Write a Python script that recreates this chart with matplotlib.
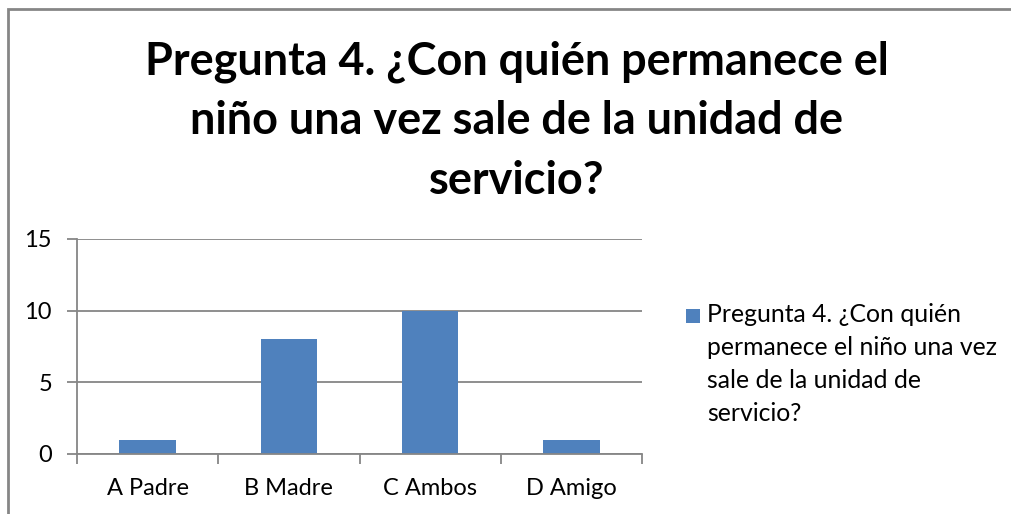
import numpy as np
from matplotlib import pyplot as plt
from matplotlib.patches import Rectangle
from matplotlib.legend_handler import HandlerPatch

categories = ['A Padre', 'B Madre', 'C Ambos', 'D Amigo']
values = [1, 8, 10, 1]
title = 'Pregunta 4. ¿Con quién permanece el\nniño una vez sale de la unidad de\nservicio?'
series_label = 'Pregunta 4. ¿Con quién\npermanece el niño una vez\nsale de la unidad de\nservicio?'
yticks = [0, 5, 10, 15]

BLUE = '#4F81BD'
GRAY = '#868686'

plt.rcParams['font.family'] = ['Lato', 'DejaVu Sans']

W, H = 1011, 514
fig = plt.figure(figsize=(W / 100, H / 100), dpi=100)

# outer chart border (only left and top visible in the reference)
fig.patches.append(Rectangle((8 / W, -0.05), 1.2, 1 - 9 / H + 0.05,
                             transform=fig.transFigure, fill=False,
                             edgecolor=GRAY, linewidth=2))

ax = fig.add_axes([77 / W, 1 - 454 / H, (642 - 77) / W, (454 - 239) / H])

x = np.arange(len(categories))
ax.bar(x, values, width=0.4, color=BLUE, zorder=2)

ax.set_xlim(-0.5, len(categories) - 0.5)
ax.set_ylim(0, 15)
ax.set_yticks(yticks)
ax.set_xticks(x)
ax.set_xticklabels(categories)
ax.yaxis.grid(True, color=GRAY, linewidth=1.3, zorder=1)
ax.set_axisbelow(True)

for s in ['top', 'right']:
    ax.spines[s].set_visible(False)
for s in ['left', 'bottom']:
    ax.spines[s].set_color(GRAY)
    ax.spines[s].set_linewidth(1.3)

ax.tick_params(axis='y', length=7, width=1.3, color=GRAY, labelsize=17, pad=11)
ax.tick_params(axis='x', length=0, labelsize=17, pad=17)
# category boundary ticks on x axis
ax.set_xticks(np.arange(-0.5, len(categories)), minor=True)
ax.tick_params(axis='x', which='minor', length=7, width=1.3, color=GRAY)

fig.text(517 / W, 1 - 121 / H, title, ha='center', va='center',
         fontsize=32.4, fontweight='bold', linespacing=1.51)

LEG_FS = 17.8
LINE_PT = 31 * 0.72


def top_square(legend, orig_handle, xdescent, ydescent, width, height, fontsize):
    s = 10
    return Rectangle((-xdescent, -ydescent + height / 2 - s / 2 + 1.5 * LINE_PT + 1.5),
                     s, s, facecolor=BLUE, edgecolor='none')


handle = Rectangle((0, 0), 1, 1, facecolor=BLUE)
leg = fig.legend([handle], [series_label], loc='upper left',
                 bbox_to_anchor=(686 / W, 1 - 303 / H), frameon=False,
                 fontsize=LEG_FS, handlelength=10 / LEG_FS, handletextpad=7 * 0.72 / LEG_FS,
                 borderpad=0, borderaxespad=0,
                 handler_map={Rectangle: HandlerPatch(patch_func=top_square)})
for t in leg.get_texts():
    t.set_linespacing(1.53)

fig.savefig('out.png', dpi=100)
